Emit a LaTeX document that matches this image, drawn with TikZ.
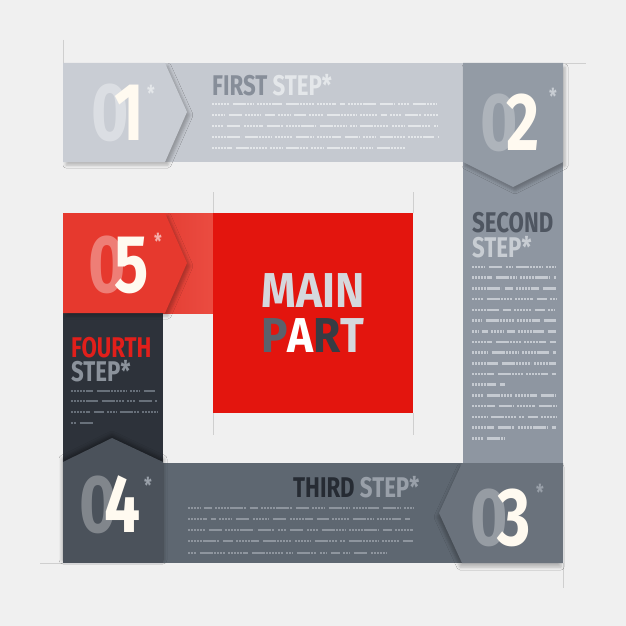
\documentclass[tikz,border=0pt]{standalone}
\usepackage{fontspec}
\setmainfont{Fira Sans}
\newfontfamily\condf[FakeStretch=0.78]{Fira Sans}
\newfontfamily\mainfam[FakeStretch=0.9]{Fira Sans}
\usetikzlibrary{shadows.blur}
\definecolor{bgc}{HTML}{F0F0F0}
\definecolor{bandA}{HTML}{C5C9D0}
\definecolor{pentA}{HTML}{C9CDD4}
\definecolor{colB}{HTML}{8E96A1}
\definecolor{chevB}{HTML}{939BA5}
\definecolor{redL}{HTML}{D6231A}
\definecolor{redR}{HTML}{EB4C41}
\definecolor{redP}{HTML}{E6392E}
\definecolor{mainred}{HTML}{E3150E}
\definecolor{colD}{HTML}{2D323A}
\definecolor{blkD}{HTML}{4B525B}
\definecolor{bandC}{HTML}{5E6771}
\definecolor{pentC}{HTML}{6A727C}
\definecolor{cream}{HTML}{FFFAF0}
\definecolor{cutc}{HTML}{CFCFCF}
\definecolor{txtA}{HTML}{E4E7EA}
\definecolor{txtB}{HTML}{C5CAD1}
\definecolor{txtD}{HTML}{68707A}
\definecolor{txtC}{HTML}{8E959E}
\definecolor{hdA}{HTML}{878E99}
\definecolor{hdB}{HTML}{4F5661}
\definecolor{hdBl}{HTML}{C8CDD3}
\definecolor{hdD}{HTML}{E11F1B}
\definecolor{hdDl}{HTML}{8B929B}
\definecolor{hdC}{HTML}{262B33}
\definecolor{hdCl}{HTML}{99A0A9}
\definecolor{mainl}{HTML}{D5D8DD}
\definecolor{mainP}{HTML}{5B616B}
\definecolor{mainR}{HTML}{373C44}
\newcommand{\numf}{\condf\bfseries\fontsize{82}{82}\selectfont}
\newcommand{\headf}{\condf\bfseries\fontsize{28.5}{25}\selectfont}
\newcommand{\starf}{\condf\bfseries\fontsize{22}{22}\selectfont}
\newcommand{\mainf}{\mainfam\bfseries\fontsize{49}{45}\selectfont}
\newcommand{\fillrow}[4]{%
  \pgfmathsetmacro{\fcx}{#1}%
  \loop
    \pgfmathsetmacro{\fwl}{5+random(0,26)}%
    \pgfmathsetmacro{\fex}{min(\fcx+\fwl,#2)}%
    \draw[#4,line width=2.6pt,dash pattern=on 2.3pt off 0.6pt] (\fcx,#3) -- (\fex,#3);%
    \pgfmathsetmacro{\fcx}{\fex+3.5}%
  \ifdim\fcx pt<#2pt\repeat
}
\tikzset{
  cutline/.style={draw=cutc,line width=0.7pt},
  shad/.style={blur shadow={shadow xshift=3pt,shadow yshift=-3pt,shadow opacity=25,shadow blur radius=3pt}},
  zero/.style={font=\numf,inner sep=0pt,anchor=base},
  digit/.style={font=\numf,inner sep=0pt,anchor=base,text=cream},
  starn/.style={font=\starf,inner sep=0pt,anchor=base},
  head/.style={font=\headf,inner sep=0pt,anchor=base west,text height=19.5pt,text depth=0pt},
  mainline/.style={font=\mainf,inner sep=0pt,anchor=base,text height=34pt,text depth=0pt}
}
\begin{document}
\begin{tikzpicture}[x=1pt,y=-1pt]
\pgfmathsetseed{17}
\useasboundingbox (0,0) rectangle (626,626);
\fill[bgc] (0,0) rectangle (626,626);
% cut marks
\draw[cutline] (63,40) -- (63,63);
\draw[cutline] (563,63) -- (586,63);
\draw[cutline] (40,563) -- (63,563);
\draw[cutline] (563,563) -- (563,588);
\draw[cutline] (213,192) -- (213,213);
\draw[cutline] (413,192) -- (413,213);
\draw[cutline] (213,413) -- (213,435);
\draw[cutline] (413,413) -- (413,435);
% second step column
\fill[colB] (463,63) rectangle (563,463);
% first band
\fill[bandA] (63,63) rectangle (463,162);
% 02 chevron
\fill[chevB,blur shadow={shadow xshift=2pt,shadow yshift=-4pt,shadow opacity=25,shadow blur radius=3pt}]
  (463,63) -- (563,63) -- (563,162) -- (513,187) -- (463,162) -- cycle;
% 01 pentagon
\fill[pentA,shad] (63,63) -- (165,63) -- (187,112) -- (165,162) -- (63,162) -- cycle;
% red band
\shade[left color=redL,right color=redR] (63,213) rectangle (213,313);
% fourth column
\fill[colD] (63,313) rectangle (163,463);
% 05 pentagon
\fill[redP,shad] (63,213) -- (165,213) -- (187,263) -- (165,313) -- (63,313) -- cycle;
% main square
\fill[mainred] (213,213) rectangle (413,413);
% third band
\fill[bandC] (163,463) rectangle (463,563);
% 04 block
\fill[blkD,blur shadow={shadow xshift=0pt,shadow yshift=3pt,shadow opacity=40,shadow blur radius=4pt}]
  (63,563) -- (63,462) -- (112,438) -- (163,462) -- (163,563) -- cycle;
% 03 pentagon
\fill[pentC,blur shadow={shadow xshift=-2pt,shadow yshift=-4pt,shadow opacity=25,shadow blur radius=3pt}]
  (563,463) -- (462,463) -- (439,513) -- (462,563) -- (563,563) -- cycle;
% numbers
\node[zero,text=white,opacity=0.35] (z1) at (110,140) {0};
\node[digit] (d1) at (129,140) {1};
\node[starn,text=txtA] (s1) at (151,101) {*};
\node[zero,text=white,opacity=0.25] (z2) at (499,150) {0};
\node[digit] (d2) at (523,150) {2};
\node[starn,text=hdBl] (s2) at (553,104) {*};
\node[zero,text=white,opacity=0.35] (z5) at (107,292) {0};
\node[digit] (d5) at (132,292) {5};
\node[starn,text=white,opacity=0.6] (s5) at (158,249) {*};
\node[zero,text=white,opacity=0.3] (z4) at (98,532) {0};
\node[digit] (d4) at (123,532) {4};
\node[starn,text=hdCl] (s4) at (148,493) {*};
\node[zero,text=white,opacity=0.3] (z3) at (489,545) {0};
\node[digit] (d3) at (514,545) {3};
\node[starn,text=hdCl] (s3) at (540,500) {*};
% headings
\node[head] (h1) at (212,95) {\textcolor{hdA}{FIRST} \textcolor{txtA}{STEP*}};
\node[head,text=hdB] (h2a) at (472,232) {SECOND};
\node[head,text=hdBl] (h2b) at (472,257) {STEP*};
\node[head,text=hdD] (h4a) at (71,357) {FOURTH};
\node[head,text=hdDl] (h4b) at (71,381) {STEP*};
\node[head] (h3) at (293,497) {\textcolor{hdC}{THIRD} \textcolor{hdCl}{STEP*}};
% main part
\node[mainline,text=mainl] (m1) at (313,307) {MAIN};
\node[mainline] (m2) at (313,352) {\textcolor{mainP}{P}\textcolor{white}{A}\textcolor{mainR}{R}\textcolor{mainl}{T}};
% filler text rows
\foreach \yy/\xe in {104/438,115/438,126/438,137/438,148/408} {\fillrow{212}{\xe}{\yy}{txtA}}
\foreach \k in {0,...,16} {
  \pgfmathsetmacro{\yy}{267+10.7*\k}
  \pgfmathsetmacro{\xe}{(\k==11 || \k==16) ? 505 : 556}
  \fillrow{472}{\xe}{\yy}{txtB}}
\foreach \yy/\xe in {391/157,401/157,412/157,423/95} {\fillrow{71}{\xe}{\yy}{txtD}}
\foreach \yy/\xe in {508/413,519/413,530/413,541/413,553/386} {\fillrow{188}{\xe}{\yy}{txtC}}
\end{tikzpicture}
\end{document}
